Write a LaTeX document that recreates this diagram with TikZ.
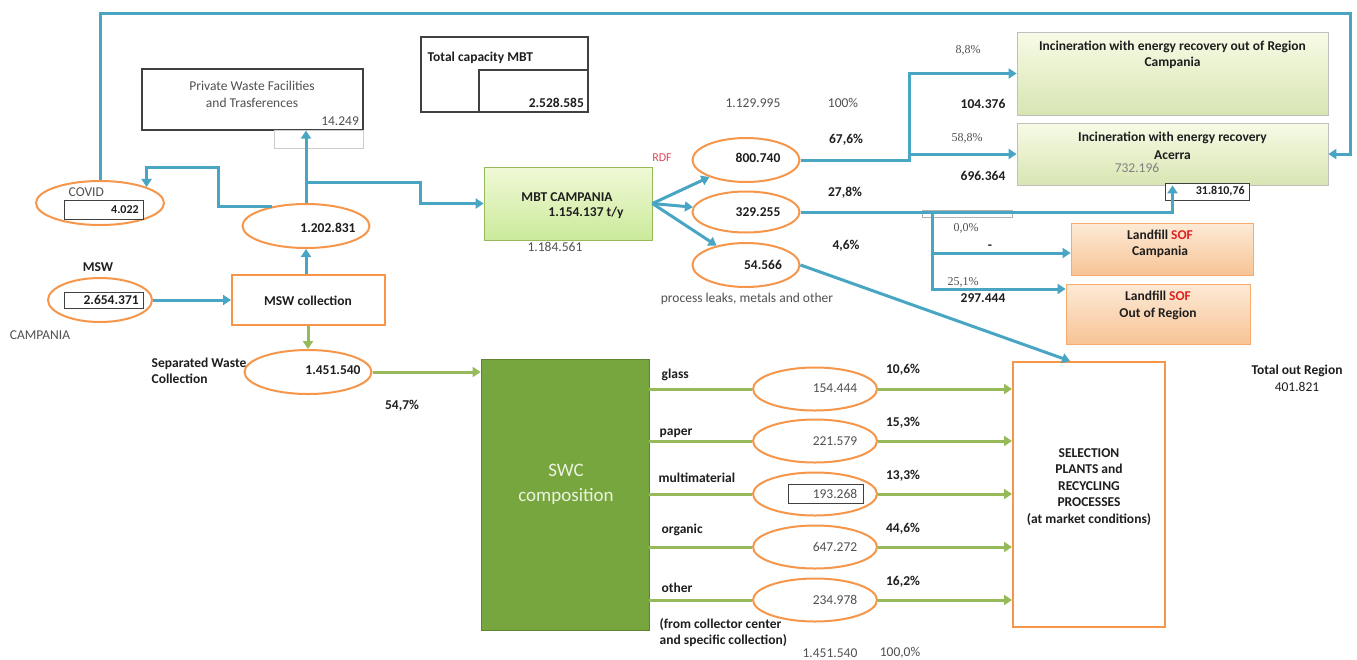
\documentclass[tikz,border=0pt]{standalone}
\usepackage{fontspec}
\setmainfont{Carlito}
\newfontfamily\tnr{Liberation Serif}
\usetikzlibrary{arrows.meta,shapes.geometric}

\definecolor{flowblue}{RGB}{72,165,195}
\definecolor{ovalorange}{RGB}{245,150,75}
\definecolor{sepgreen}{RGB}{150,185,90}
\definecolor{swcgreen}{RGB}{120,166,62}
\definecolor{ink}{RGB}{30,30,30}
\definecolor{softink}{RGB}{80,80,80}
\definecolor{sofred}{RGB}{220,35,35}
\definecolor{rdfred}{RGB}{225,70,90}
\definecolor{mbttop}{RGB}{240,249,215}
\definecolor{mbtbot}{RGB}{203,234,155}
\definecolor{inctop}{RGB}{247,251,230}
\definecolor{incbot}{RGB}{216,229,178}
\definecolor{lftop}{RGB}{253,234,214}
\definecolor{lfbot}{RGB}{247,196,150}

\begin{document}
\fontsize{13.5}{16}\selectfont
\begin{tikzpicture}[x=1pt,y=-1pt,
  flow/.style={draw=flowblue, line width=3pt, -{Triangle[length=8pt,width=10pt]}},
  sepflow/.style={draw=sepgreen, line width=3pt, -{Triangle[length=8pt,width=10pt]}},
  sepline/.style={draw=sepgreen, line width=3pt},
  oval/.style={ellipse, draw=ovalorange, line width=2pt, fill=white, inner sep=0pt},
  cell/.style={draw=black!75, line width=0.8pt, fill=white, inner sep=0pt},
  plate/.style={rectangle, draw=black!75, line width=1.2pt, inner sep=0pt},
  incbox/.style={rectangle, draw=black!25, line width=0.8pt, top color=inctop, bottom color=incbot, inner sep=0pt},
  lfbox/.style={rectangle, draw=ovalorange!80, line width=0.8pt, top color=lftop, bottom color=lfbot, inner sep=0pt},
  obox/.style={rectangle, draw=ovalorange, line width=2pt, fill=white, inner sep=0pt},
  num/.style={font=\bfseries, text=ink},
  val/.style={text=softink},
  pct/.style={font=\tnr\fontsize{12}{14}\selectfont, text=softink}]
\useasboundingbox (0,0) rectangle (1357,659);

% private facilities and capacity
\node[plate, minimum width=221pt, minimum height=61pt] (pwf) at (252.5,99.5) {};
\node[val, align=center, font=\fontsize{13.5}{17}\selectfont] (pwft) at (252,94) {Private Waste Facilities\\and Trasferences};
\node[val, anchor=south east] (pwfn) at (pwf.south east) {14.249};
\node[draw=black!20, line width=0.6pt, inner sep=0pt, minimum width=89pt, minimum height=18pt] (pwfc) at (318.5,139) {};
\node[plate, minimum width=167pt, minimum height=75pt] (cap) at (504.5,74.5) {};
\node[plate, minimum width=109pt, minimum height=42pt] (capc) at (533.5,91) {};
\node[num, anchor=west] (capt) at (423,58) {Total capacity MBT};
\node[num, anchor=south east] (capn) at (capc.south east) {2.528.585};

% covid and collection
\node[oval, minimum width=128pt, minimum height=44pt] (covid) at (100,203) {};
\node[val, anchor=west] (covidt) at (64,192) {COVID};
\node[cell, minimum width=79pt, minimum height=19pt] (covidc) at (103.5,209.5) {};
\node[num, anchor=east, font=\bfseries\fontsize{12}{14}\selectfont] (covidn) at (covidc.east) {4.022};
\node[oval, minimum width=127pt, minimum height=44pt] (mid) at (306,226) {};
\node[num] (midn) at (328,228) {1.202.831};
\node[num] (mswt) at (98,267) {MSW};
\node[oval, minimum width=104pt, minimum height=44pt] (msw) at (100,300) {};
\node[cell, minimum width=79pt, minimum height=16pt] (mswc) at (103.5,300) {};
\node[num, anchor=east] (mswn) at (mswc.east) {2.654.371};
\node[val] (camp) at (40,335) {CAMPANIA};
\node[obox, minimum width=153pt, minimum height=50pt] (coll) at (308.5,300) {};
\node[num] (collt) at (308,301) {MSW collection};
\node[oval, minimum width=127pt, minimum height=44pt] (sepc) at (308,372) {};
\node[num] (sepn) at (333,370) {1.451.540};
\node[num, anchor=west, align=left, font=\bfseries\fontsize{13.5}{15.5}\selectfont] (sept) at (147,371) {Separated Waste\\Collection};
\node[num] (seppct) at (402,406) {54,7\%};

% MBT
\node[rectangle, draw=sepgreen, line width=0.8pt, top color=mbttop, bottom color=mbtbot, minimum width=168pt, minimum height=73pt] (mbt) at (568,203.5) {};
\node[num] (mbtt) at (567,197) {MBT CAMPANIA};
\node[num] (mbtn) at (586,213) {1.154.137 t/y};
\node[val] (mbtin) at (555,247) {1.184.561};
\node[text=rdfred, font=\fontsize{12}{14}\selectfont] (rdft) at (662,158) {RDF};
\node[val] (tot) at (753,103) {1.129.995};
\node[val] (totp) at (843,103) {100\%};
\node[oval, minimum width=107pt, minimum height=44pt] (rdf) at (746,160) {};
\node[num] (rdfn) at (758,158) {800.740};
\node[oval, minimum width=107pt, minimum height=41pt] (rest) at (746,212) {};
\node[num] (restn) at (758,212) {329.255};
\node[oval, minimum width=107pt, minimum height=44pt] (leak) at (746,265) {};
\node[num] (leakn) at (763,265) {54.566};
\node[num] (rdfp) at (846,140) {67,6\%};
\node[num] (restp) at (845,193) {27,8\%};
\node[num] (leakp) at (846,246) {4,6\%};
\node[val] (leakt) at (747,299) {process leaks, metals and other};

% incineration and landfill
\node[incbox, minimum width=311pt, minimum height=83pt] (incout) at (1172.5,73.5) {};
\node[num, align=center, font=\bfseries\fontsize{13.5}{16}\selectfont] (incoutt) at (1172.5,55) {Incineration with energy recovery out of Region\\Campania};
\node[incbox, minimum width=311pt, minimum height=62pt] (acerra) at (1172.5,154) {};
\node[num, align=center, font=\bfseries\fontsize{13.5}{18}\selectfont] (acerrat) at (1172.5,146) {Incineration with energy recovery\\Acerra};
\node[text=black!50] (acerran) at (1137,168) {732.196};
\node[pct] (incoutp) at (968,50) {8,8\%};
\node[num] (incoutn) at (983,104) {104.376};
\node[pct] (acerrap) at (967,138) {58,8\%};
\node[num] (acerrav) at (983,176) {696.364};
\node[draw=black!30, line width=0.6pt, inner sep=0pt, minimum width=90pt, minimum height=7pt] (restc) at (967,214) {};
\node[cell, minimum width=84pt, minimum height=17pt] (backc) at (1207,191.5) {};
\node[num, anchor=east, font=\bfseries\fontsize{12}{14}\selectfont] (backn) at (backc.east) {31.810,76};
\node[lfbox, minimum width=182pt, minimum height=52pt] (lfc) at (1162,249) {};
\node[num, align=center, font=\bfseries\fontsize{13.5}{16}\selectfont] (lfct) at (1160,244) {Landfill \textcolor{sofred}{SOF}\\Campania};
\node[lfbox, minimum width=184pt, minimum height=60pt] (lfo) at (1158,314) {};
\node[num, align=center, font=\bfseries\fontsize{13.5}{17}\selectfont] (lfot) at (1158,305.5) {Landfill \textcolor{sofred}{SOF}\\Out of Region};
\node[pct] (lfcp) at (966,228) {0,0\%};
\node[num] (lfcn) at (990,247) {-};
\node[pct] (lfop) at (963,282) {25,1\%};
\node[num] (lfon) at (983,298) {297.444};
\node[num, align=center, font=\bfseries\fontsize{13.5}{17}\selectfont] (outreg) at (1297,378.5) {Total out Region\\\mdseries 401.821};

% separated collection
\node[rectangle, fill=swcgreen, draw=swcgreen!80!black, line width=0.8pt, minimum width=168pt, minimum height=271pt] (swc) at (565,494.5) {};
\node[align=center, text=white!85!swcgreen, font=\fontsize{19}{25}\selectfont] (swct) at (566,484) {SWC\\composition};
\node[obox, minimum width=152pt, minimum height=265pt] (sel) at (1089,494.5) {};
\node[num, align=center, font=\bfseries\fontsize{13.5}{16.5}\selectfont] (selt) at (1089,487) {SELECTION\\PLANTS and\\RECYCLING\\PROCESSES\\(at market conditions)};
\node[oval, minimum width=124pt, minimum height=43pt] (glass) at (815,389) {};
\node[val] (glassn) at (835,388) {154.444};
\node[oval, minimum width=124pt, minimum height=43pt] (paper) at (815,441) {};
\node[val] (papern) at (835,441) {221.579};
\node[oval, minimum width=124pt, minimum height=43pt] (multi) at (815,494) {};
\node[cell, minimum width=75pt, minimum height=19pt] (multic) at (825.5,493.5) {};
\node[val] (multin) at (835,494) {193.268};
\node[oval, minimum width=124pt, minimum height=43pt] (organic) at (815,547) {};
\node[val] (organicn) at (835,547) {647.272};
\node[oval, minimum width=124pt, minimum height=43pt] (other) at (815,600) {};
\node[val] (othern) at (835,600) {234.978};
\node[num, anchor=west] (glasst) at (657,375) {glass};
\node[num, anchor=west] (papert) at (655,433) {paper};
\node[num, anchor=west] (multit) at (654,478) {multimaterial};
\node[num, anchor=west] (organict) at (657,530) {organic};
\node[num, anchor=west] (othert) at (657,588) {other};
\node[num, anchor=west, align=left] (otherx) at (655,633) {(from collector center\\and specific collection)};
\node[num] (glassp) at (903,370) {10,6\%};
\node[num] (paperp) at (903,423) {15,3\%};
\node[num] (multip) at (903,476) {13,3\%};
\node[num] (organicp) at (903,529) {44,6\%};
\node[num] (otherp) at (903,582) {16,2\%};
\node[val] (swctot) at (830,653) {1.451.540};
\node[val] (swctotp) at (900,653) {100,0\%};

% blue connectors
\coordinate (loopne) at (1350,13);
\coordinate (split) at (306,182);
\coordinate (lsplit) at (932,212);
\draw[flow] (covid.north) |- (loopne) |- (acerra.east);
\draw[flow] (msw) -- (coll);
\draw[flow] (coll.north -| mid) -- (mid);
\draw[flow] (mid) -- (pwf.south -| mid);
\draw[flow] (mid.150) -| (218,167) -| (covid.19);
\draw[flow] (split) -| ([xshift=-63pt]mbt.west) -- (mbt.west);
\draw[flow] (mbt.east) -- (rdf);
\draw[flow] (mbt.east) -- (rest);
\draw[flow] (mbt.east) -- (leak);
\draw[flow] (rdf.east) -| ([xshift=-107pt]incout.west) -- (incout.west);
\draw[flow] ([xshift=-107pt]acerra.west) -- (acerra.west);
\draw[flow] (rest.east) -| (acerra.south);
\draw[flow] (lsplit) |- ([yshift=-4pt]lfc.west);
\draw[flow] (lsplit) |- ([yshift=25pt]lfo.west);
\draw[flow] (leak.east) -- ([xshift=-19pt]sel.north);

% green connectors
\draw[sepflow] (coll.south -| sepc) -- (sepc);
\draw[sepflow] (sepc) -- (swc.west |- sepc);
\draw[sepline] (swc.east |- glass) -- (glass);
\draw[sepline] (swc.east |- paper) -- (paper);
\draw[sepline] (swc.east |- multi) -- (multi);
\draw[sepline] (swc.east |- organic) -- (organic);
\draw[sepline] (swc.east |- other) -- (other);
\draw[sepflow] (glass) -- (sel.west |- glass);
\draw[sepflow] (paper) -- (sel.west |- paper);
\draw[sepflow] (multi) -- (sel.west |- multi);
\draw[sepflow] (organic) -- (sel.west |- organic);
\draw[sepflow] (other) -- (sel.west |- other);
\end{tikzpicture}
\end{document}
